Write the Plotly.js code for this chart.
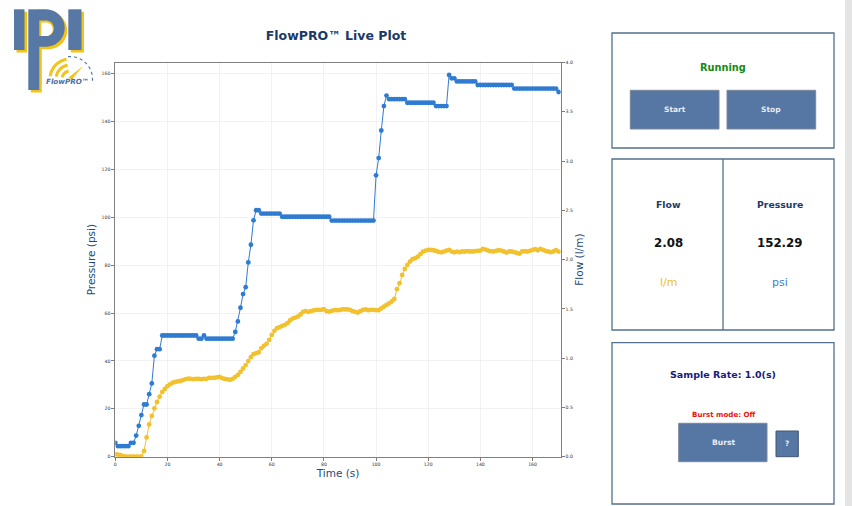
<!DOCTYPE html>
<html>
<head>
<meta charset="utf-8">
<script src="https://cdn.plot.ly/plotly-3.0.1.min.js"></script>
<style>html,body{margin:0;padding:0;background:#fff;}#chart{width:852px;height:506px;}</style>
</head>
<body>
<div id="chart"></div>
<script>
// ---- data (1 s sample rate) ----
const timeS = [0,1,2,3,4,5,6,7,8,9,10,11,12,13,14,15,16,17,18,19,20,21,22,23,24,25,26,27,28,29,30,31,32,33,34,35,36,37,38,39,40,41,42,43,44,45,46,47,48,49,50,51,52,53,54,55,56,57,58,59,60,61,62,63,64,65,66,67,68,69,70,71,72,73,74,75,76,77,78,79,80,81,82,83,84,85,86,87,88,89,90,91,92,93,94,95,96,97,98,99,100,101,102,103,104,105,106,107,108,109,110,111,112,113,114,115,116,117,118,119,120,121,122,123,124,125,126,127,128,129,130,131,132,133,134,135,136,137,138,139,140,141,142,143,144,145,146,147,148,149,150,151,152,153,154,155,156,157,158,159,160,161,162,163,164,165,166,167,168,169,170];

const pressurePsi = [5.8,4.4,4.4,4.4,4.4,4.4,5.8,5.8,8.8,12.9,17.4,21.8,21.8,26.1,30.6,42.2,44.9,44.9,
50.6,50.6,50.6,50.6,50.6,50.6,50.6,50.6,50.6,50.6,50.6,50.6,50.6,50.6,
49.3,49.3,50.6,
49.3,49.3,49.3,49.3,49.3,49.3,49.3,49.3,49.3,49.3,49.3,
52.1,56.5,62.2,67.9,70.8,81.1,88.5,98.7,102.9,102.9,
101.5,101.5,101.5,101.5,101.5,101.5,101.5,101.5,
100.2,100.2,100.2,100.2,100.2,100.2,100.2,100.2,100.2,100.2,100.2,100.2,100.2,100.2,100.2,100.2,100.2,100.2,100.2,
98.6,98.6,98.6,98.6,98.6,98.6,98.6,98.6,98.6,98.6,98.6,98.6,98.6,98.6,98.6,98.6,98.6,
117.5,124.7,136.2,146.4,150.8,
149.3,149.3,149.3,149.3,149.3,149.3,149.3,
147.8,147.8,147.8,147.8,147.8,147.8,147.8,147.8,147.8,147.8,147.8,
146.4,146.4,146.4,146.4,146.4,
159.4,158.0,158.0,
156.7,156.7,156.7,156.7,156.7,156.7,156.7,156.7,
155.2,155.2,155.2,155.2,155.2,155.2,155.2,155.2,155.2,155.2,155.2,155.2,155.2,155.2,
153.7,153.7,153.7,153.7,153.7,153.7,153.7,153.7,153.7,153.7,153.7,153.7,153.7,153.7,153.7,153.7,153.7,
152.29];

const flowLpm = [0.025,0.02,0.015,0.005,0,0,0,0,0,0,0,0.058,0.196,0.328,0.413,0.491,0.555,0.609,0.657,0.687,
0.717,0.734,0.751,0.758,0.765,0.768,0.778,0.788,0.792,0.79,0.787,0.79,0.79,0.787,0.79,0.79,0.80,0.80,0.80,0.805,
0.81,0.795,0.79,0.785,0.78,0.79,0.81,0.83,0.86,0.895,0.93,0.97,1.01,1.04,1.05,1.06,1.10,1.125,1.145,1.185,
1.236,1.277,1.304,1.314,1.327,1.338,1.355,1.382,1.402,1.412,1.422,1.443,1.47,1.477,1.47,1.477,1.484,1.49,1.49,1.49,
1.497,1.477,1.473,1.48,1.487,1.487,1.487,1.494,1.494,1.494,1.49,1.477,1.47,1.463,1.477,1.49,1.494,1.487,1.49,1.49,
1.487,1.487,1.505,1.522,1.54,1.556,1.575,1.60,1.70,1.76,1.845,1.905,1.946,1.98,2.004,2.014,2.03,2.055,2.081,2.092,
2.098,2.098,2.095,2.088,2.078,2.074,2.081,2.092,2.098,2.081,2.074,2.081,2.075,2.082,2.082,2.085,2.082,2.082,2.085,2.088,
2.092,2.109,2.102,2.092,2.085,2.082,2.088,2.095,2.092,2.082,2.071,2.082,2.082,2.075,2.068,2.061,2.082,2.085,2.082,2.088,
2.098,2.105,2.095,2.109,2.098,2.088,2.082,2.075,2.082,2.095,2.08];

const xTicks = [0,20,40,60,80,100,120,140,160];
const pressureTicks = [0,20,40,60,80,100,120,140,160];
const flowTicks = [0.0,0.5,1.0,1.5,2.0,2.5,3.0,3.5,4.0];

const currentFlow = '2.08';
const currentPressure = '152.29';
const sampleRate = 'Sample Rate: 1.0(s)';

// ---- page geometry helpers (pixel -> paper) ----
const W = 852, H = 506;
const px = x => x / W;
const py = y => 1 - y / H;
const FONT = 'DejaVu Sans, Verdana, sans-serif';
const shapes = [];
const annotations = [];

function rect(x0, y0, x1, y1, fill, line, lw) {
  shapes.push({type:'rect', xref:'paper', yref:'paper', x0:px(x0), x1:px(x1), y0:py(y1), y1:py(y0),
    fillcolor: fill || 'rgba(0,0,0,0)', line:{color: line || 'rgba(0,0,0,0)', width: lw || 0}, layer:'above'});
}
function segment(x0, y0, x1, y1, color, lw, dash) {
  shapes.push({type:'line', xref:'paper', yref:'paper', x0:px(x0), x1:px(x1), y0:py(y0), y1:py(y1),
    line:{color:color, width:lw, dash: dash || 'solid'}, layer:'above'});
}
function pathShape(pts, fill, line, lw, closed, dash) {
  let d = pts.map((p, i) => (i ? 'L' : 'M') + px(p[0]).toFixed(5) + ',' + py(p[1]).toFixed(5)).join(' ');
  if (closed) d += ' Z';
  shapes.push({type:'path', xref:'paper', yref:'paper', path:d,
    fillcolor: fill || 'rgba(0,0,0,0)', line:{color: line || 'rgba(0,0,0,0)', width: lw || 0, dash: dash || 'solid'}, layer:'above'});
}
function arcPts(cx, cy, r, a0, a1, n) {
  const pts = [];
  for (let i = 0; i <= n; i++) {
    const a = (a0 + (a1 - a0) * i / n) * Math.PI / 180;
    pts.push([cx + r * Math.cos(a), cy - r * Math.sin(a)]);
  }
  return pts;
}
function text(x, y, str, size, color, bold, extra) {
  annotations.push(Object.assign({xref:'paper', yref:'paper', x:px(x), y:py(y), text:str, showarrow:false,
    xanchor:'center', yanchor:'middle',
    font:{family:FONT, size:size, color:color, weight: bold ? 700 : 400}}, extra || {}));
}

// ---- logo ----
const LB = '#5777a4', LY = '#f2c318';
function pShape(dx, dy, fill) {
  pathShape([[28.3+dx,9.3+dy],[39.3+dx,9.3+dy],[39.3+dx,90+dy],[28.3+dx,90+dy]], fill, null, 0, true);
  const outer = [[39+dx,9.3+dy],[46+dx,9.3+dy]].concat(arcPts(46+dx,28+dy,18.7,90,-90,24)).concat([[39+dx,46.7+dy]]);
  pathShape(outer, fill, null, 0, true);
}
rect(16.5, 11.8, 27, 52.5, LY);
pShape(2.5, 2.5, LY);
rect(70.8, 11.8, 84, 52.5, LY);
rect(14, 9.3, 24.5, 50, LB);
pShape(0, 0, LB);
pathShape([[39.3,20.5],[46,20.5]].concat(arcPts(46,28.3,7.8,90,-90,18)).concat([[39.3,36.1]]), LY, null, 0, true);
pathShape([[41.3,22.5],[46,22.5]].concat(arcPts(46,29.3,6.8,90,-90,18)).concat([[41.3,36.1]]), '#ffffff', null, 0, true);
rect(68.3, 9.3, 81.5, 50, LB);

const gcx = 70, gcy = 79;
pathShape(arcPts(gcx, gcy, 20, 100, 172, 20), null, LY, 3);
pathShape(arcPts(gcx, gcy, 14, 100, 170, 16), null, LY, 3);
pathShape(arcPts(gcx, gcy, 8, 100, 168, 12), null, LY, 3);
pathShape(arcPts(gcx, gcy, 22.5, 95, -10, 24), null, LB, 1.2, false, 'dot');
pathShape([[gcx-1.5, gcy-1.5],[gcx+1.5, gcy+1.0],[gcx+13, gcy-13]], LY, null, 0, true);
text(67, 81.5, '<i>FlowPRO™</i>', 7.2, '#4a6fa5', true);

// ---- right-hand panels ----
const BORDER = '#52708f', BTN = '#5676a3', BTN_EDGE = '#7a8897';
rect(612, 33, 834, 148, null, BORDER, 1.3);
text(723, 67, 'Running', 9.8, '#148a14', true);
rect(630.3, 90.3, 719, 129, BTN, BTN_EDGE, 1);
rect(727, 90.3, 815.7, 129, BTN, BTN_EDGE, 1);
text(674.5, 109.5, 'Start', 7.5, '#e8edf5', true);
text(771.3, 109.5, 'Stop', 7.5, '#e8edf5', true);

rect(612, 159, 834, 330, null, BORDER, 1.3);
segment(723, 159, 723, 330, BORDER, 1.3);
text(668.7, 204.3, 'Flow', 9.3, '#1c3a66', true);
text(780, 204.3, 'Pressure', 9.3, '#1c3a66', true);
text(668.7, 243.3, currentFlow, 11.8, '#111111', true);
text(780, 243.3, currentPressure, 11.8, '#111111', true);
text(668.7, 282.5, 'l/m', 11, '#f0c020', false);
text(780, 282.5, 'psi', 11, '#3a7fd0', false);

rect(612, 342.7, 834, 504, null, BORDER, 1.3);
text(723.3, 374.3, sampleRate, 9.5, '#1a1a7a', true);
text(723.7, 414.3, 'Burst mode: Off', 7.1, '#ee1111', true);
rect(678.7, 423.3, 767, 461.7, BTN, BTN_EDGE, 1);
text(723, 442, 'Burst', 7.6, '#e8edf5', true);
rect(776, 431, 798.3, 456.7, BTN, '#3e5670', 1);
text(787, 443.5, '?', 7.5, '#e8edf5', true);

rect(845, 0, 852, 506, '#e4e4e4');

// ---- chart ----
const AXC = '#1f4a7a';
const tickFont = {family:FONT, size:4.6, color:'#333333'};
const traces = [
  {x:timeS, y:pressurePsi, name:'Pressure', type:'scatter', mode:'lines+markers',
   line:{color:'#2f7bd2', width:1}, marker:{color:'#2f7bd2', size:4.8}, xaxis:'x', yaxis:'y'},
  {x:timeS, y:flowLpm, name:'Flow', type:'scatter', mode:'lines+markers',
   line:{color:'#f2c12e', width:1}, marker:{color:'#f2c12e', size:4.8}, xaxis:'x', yaxis:'y2'}
];

const layout = {
  width: W, height: H,
  margin:{l:0, r:0, t:0, b:0, pad:0},
  paper_bgcolor:'#ffffff', plot_bgcolor:'rgba(0,0,0,0)',
  showlegend:false,
  title:{text:'FlowPRO™ Live Plot', x:px(336), xanchor:'center', y:py(36), yanchor:'middle',
    font:{family:FONT, size:12.5, weight:700, color:'#1c3a66'}},
  xaxis:{domain:[px(115.3), px(560.7)], range:[0,170.8], tickvals:xTicks, ticktext:xTicks.map(String),
    showgrid:true, gridcolor:'#ededed', gridwidth:0.7, zeroline:false,
    showline:true, linecolor:'#808080', linewidth:1, mirror:true,
    ticks:'outside', ticklen:3, tickwidth:0.7, tickcolor:'#444', tickfont:tickFont,
    title:{text:'Time (s)', standoff:2, font:{family:FONT, size:10.5, color:AXC}}},
  yaxis:{domain:[py(456.7), py(62.5)], range:[0,164.6], tickvals:pressureTicks, ticktext:pressureTicks.map(String),
    showgrid:true, gridcolor:'#ededed', gridwidth:0.7, zeroline:false,
    showline:true, linecolor:'#808080', linewidth:1, mirror:true,
    ticks:'outside', ticklen:3, tickwidth:0.7, tickcolor:'#444', tickfont:tickFont,
    title:{text:'Pressure (psi)', standoff:3, font:{family:FONT, size:10.5, color:AXC}}},
  yaxis2:{overlaying:'y', side:'right', anchor:'x', range:[0,4.0], tickvals:flowTicks, ticktext:flowTicks.map(v => v.toFixed(1)),
    showgrid:false, zeroline:false, showline:true, linecolor:'#808080', linewidth:1,
    ticks:'outside', ticklen:3, tickwidth:0.7, tickcolor:'#444', tickfont:tickFont,
    title:{text:'Flow (l/m)', standoff:2, font:{family:FONT, size:10.5, color:AXC}}},
  shapes: shapes,
  annotations: annotations
};

Plotly.newPlot('chart', traces, layout, {staticPlot:true, displayModeBar:false});
</script>
</body>
</html>
